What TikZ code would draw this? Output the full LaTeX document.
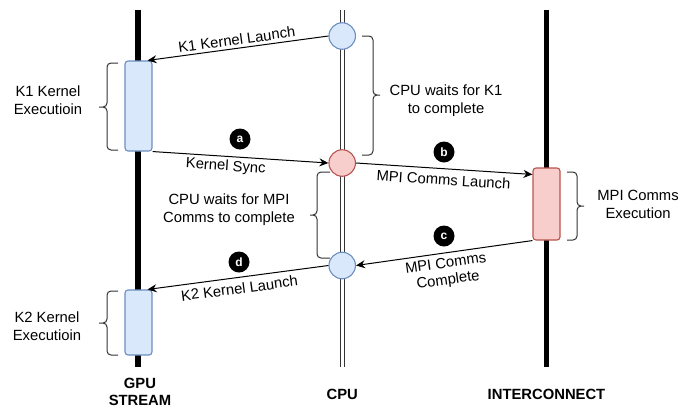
\documentclass[tikz,border=0pt]{standalone}
\usepackage{fontspec}
\setmainfont{Liberation Sans}
\usetikzlibrary{arrows.meta,calc}
\definecolor{bluefill}{HTML}{DAE8FC}
\definecolor{bluedraw}{HTML}{6C8EBF}
\definecolor{redfill}{HTML}{F8CECC}
\definecolor{reddraw}{HTML}{B85450}
\definecolor{bracecol}{HTML}{333333}
\begin{document}
\begin{tikzpicture}[x=1pt,y=-1pt,
  lifeline/.style={line width=5.5pt, black},
  cpuline/.style={line width=1.1pt, black!80},
  bluebox/.style={fill=bluefill, draw=bluedraw},
  redbox/.style={fill=redfill, draw=reddraw},
  evt/.style={circle, minimum size=26.5pt, inner sep=0pt, line width=1.1pt},
  execbox/.style={rectangle, rounded corners=3pt, minimum width=27pt, line width=1.1pt, inner sep=0pt},
  msg/.style={-{Stealth[length=9pt,width=8pt]}, line width=1pt},
  badge/.style={circle, fill=black, text=white, font=\bfseries\fontsize{12}{12}\selectfont, minimum size=21pt, inner sep=0pt},
  lbl/.style={font=\fontsize{14.8}{18}\selectfont, align=center},
  msglbl/.style={font=\fontsize{14.8}{17}\selectfont, align=center, sloped, inner sep=3pt},
  bracepath/.style={line width=1pt, rounded corners=4pt, draw=bracecol},
  lanetitle/.style={font=\bfseries\fontsize{14.8}{17}\selectfont, align=center}
]
\useasboundingbox (0,0) rectangle (691,408);

% lifelines
\coordinate (gpuTop) at (138,10);
\coordinate (gpuBot) at (138,367);
\coordinate (cpuTopL) at (340.2,10);
\coordinate (cpuBotL) at (340.2,367);
\coordinate (cpuTopR) at (344.2,10);
\coordinate (cpuBotR) at (344.2,367);
\coordinate (icTop) at (546.5,10);
\coordinate (icBot) at (546.5,367);
\draw[lifeline] (gpuTop) -- (gpuBot);
\draw[cpuline] (cpuTopL) -- (cpuBotL);
\draw[cpuline] (cpuTopR) -- (cpuBotR);
\draw[lifeline] (icTop) -- (icBot);

% execution boxes
\node[execbox, bluebox, minimum height=90pt] (k1) at (138.5,106) {};
\node[execbox, bluebox, minimum height=65pt] (k2) at (138.5,322.5) {};
\node[execbox, redbox, minimum height=72pt] (mpi) at (546.5,204) {};

% CPU events
\node[evt, bluebox] (c1) at (342.2,36) {};
\node[evt, redbox] (c2) at (342.2,163) {};
\node[evt, bluebox] (c3) at (342.2,265.5) {};

% messages
\draw[msg] (c1.west) -- node[msglbl, above, pos=0.5] (l1) {K1 Kernel Launch} ([xshift=-5pt]k1.north east);
\draw[msg] (k1.south east) -- node[msglbl, below, pos=0.42] (l2) {Kernel Sync} (c2.west);
\draw[msg] (c2.east) -- node[msglbl, below=2pt, pos=0.5] (l3) {MPI Comms Launch} ([yshift=-7pt]mpi.north west);
\draw[msg] (mpi.south west) -- node[msglbl, below=1pt, pos=0.5] (l4) {MPI Comms\\Complete} (c3.east);
\draw[msg] (c3.west) -- node[msglbl, below=2pt, pos=0.5] (l5) {K2 Kernel Launch} ([xshift=-5pt]k2.north east);

% badges
\node[badge] (ba) at (240,139) {a};
\node[badge] (bb) at (444,152) {b};
\node[badge] (bc) at (444,236) {c};
\node[badge] (bd) at (239,262) {d};

% braces
\draw[bracepath] (118,63) -- (107,63) -- (107,107) -- (99,107)
                 (99,107) -- (107,107) -- (107,150) -- (118,150);
\draw[bracepath] (118,291) -- (107,291) -- (107,323) -- (99,323)
                 (99,323) -- (107,323) -- (107,355) -- (118,355);
\draw[bracepath] (362,36) -- (373,36) -- (373,95) -- (380,95)
                 (380,95) -- (373,95) -- (373,155) -- (362,155);
\draw[bracepath] (330,172) -- (317,172) -- (317,215) -- (310,215)
                 (310,215) -- (317,215) -- (317,258) -- (330,258);
\draw[bracepath] (567,172) -- (577,172) -- (577,206) -- (584,206)
                 (584,206) -- (577,206) -- (577,240) -- (567,240);

% brace labels
\node[lbl] (t1) at (48,100) {K1 Kernel\\Executioin};
\node[lbl] (t2) at (47,326) {K2 Kernel\\Executioin};
\node[lbl] (t3) at (446,101) {CPU waits for K1\\to complete};
\node[lbl] (t4) at (229,210) {CPU waits for MPI\\Comms to complete};
\node[lbl] (t5) at (638,204) {MPI Comms\\Execution};

% lane titles
\node[lanetitle] (g) at (140,392) {GPU\\STREAM};
\node[lanetitle] (c) at (342.2,394) {CPU};
\node[lanetitle] (i) at (546.5,394) {INTERCONNECT};
\end{tikzpicture}
\end{document}
